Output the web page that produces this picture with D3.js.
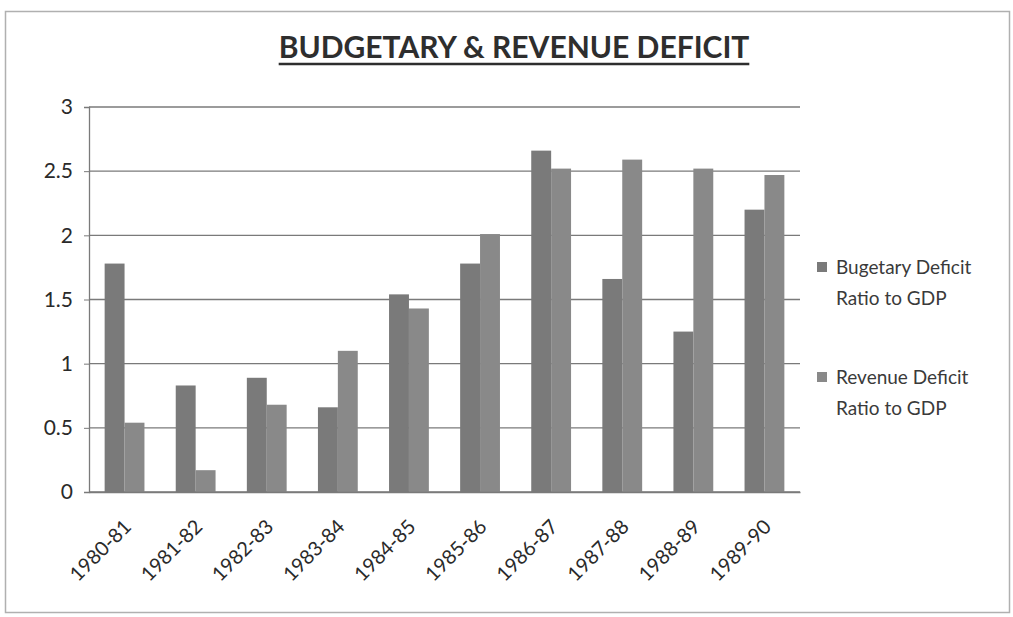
<!DOCTYPE html>
<html><head><meta charset="utf-8">
<script src="https://cdn.jsdelivr.net/npm/d3@7"></script>
<style>html,body{margin:0;padding:0;background:#fff;}svg{display:block;}</style>
</head><body>
<script>
const categories = ["1980-81","1981-82","1982-83","1983-84","1984-85","1985-86","1986-87","1987-88","1988-89","1989-90"];
const budgetary = [1.78,0.83,0.89,0.66,1.54,1.78,2.66,1.66,1.25,2.2];
const revenue = [0.54,0.17,0.68,1.1,1.43,2.01,2.52,2.59,2.52,2.47];
const seriesNames = [["Bugetary Deficit","Ratio to GDP"],["Revenue Deficit","Ratio to GDP"]];
const yTicks = [0,0.5,1,1.5,2,2.5,3];
const title = "BUDGETARY & REVENUE DEFICIT";

const W=1013,H=617;
const font = "Lato, 'Open Sans', sans-serif";
const svg = d3.select("body").append("svg").attr("width",W).attr("height",H);
svg.append("rect").attr("x",5.5).attr("y",11.5).attr("width",1004).attr("height",601)
  .attr("fill","#fff").attr("stroke","#b0b0b0").attr("stroke-width",1.5);

const m={l:89,r:800,t:107,b:492};
const x=d3.scaleBand().domain(categories).range([m.l,m.r]).paddingInner(0.44).paddingOuter(0.22);
const y=d3.scaleLinear().domain([0,3]).range([m.b,m.t]);

// gridlines
svg.append("g").selectAll("line").data(yTicks).join("line")
  .attr("x1",m.l).attr("x2",m.r).attr("y1",d=>y(d)).attr("y2",d=>y(d))
  .attr("stroke","#7a7a7a").attr("stroke-width",1.3);

const yAxis=svg.append("g").attr("transform",`translate(${m.l},0)`)
  .call(d3.axisLeft(y).tickValues(yTicks).tickSize(5).tickPadding(11).tickFormat(d3.format("")));
yAxis.select(".domain").attr("stroke","#7a7a7a").attr("stroke-width",1.3);
yAxis.selectAll(".tick line").attr("stroke","#7a7a7a");
yAxis.selectAll("text").attr("font-family",font).attr("font-size",21).attr("fill","#2a2a2a");

const inner=d3.scaleBand().domain([0,1]).range([0,x.bandwidth()]);
const g=svg.append("g");
const colors=["#7a7a7a","#898989"];
[budgetary,revenue].forEach((vals,si)=>{
  g.selectAll(".s"+si).data(vals).join("rect")
   .attr("x",(d,i)=>x(categories[i])+inner(si)).attr("width",inner.bandwidth())
   .attr("y",d=>y(d)).attr("height",d=>y(0)-y(d)).attr("fill",colors[si]);
});

const xAxis=svg.append("g").attr("transform",`translate(0,${m.b})`)
  .call(d3.axisBottom(x).tickSize(0).tickPadding(0));
xAxis.select(".domain").attr("stroke","#7a7a7a").attr("stroke-width",1.3);
xAxis.selectAll("text").attr("font-family",font).attr("font-size",20).attr("fill","#2a2a2a")
  .attr("text-anchor","end").attr("dy",0)
  .attr("transform","translate(8,36) rotate(-45)");

// title
const t=svg.append("text").attr("x",514).attr("y",58).attr("text-anchor","middle")
  .attr("font-family",font).attr("font-weight","bold").attr("font-size",30).attr("fill","#2e2e2e")
  .text(title);
const bb=t.node().getBBox();
svg.append("line").attr("x1",bb.x).attr("x2",bb.x+bb.width).attr("y1",64).attr("y2",64)
  .attr("stroke","#2e2e2e").attr("stroke-width",2.5);

// legend
const ly=[274,384];
seriesNames.forEach((lines,i)=>{
  svg.append("rect").attr("x",817).attr("y",ly[i]-12).attr("width",10).attr("height",10).attr("fill",colors[i]);
  lines.forEach((s,j)=>svg.append("text").attr("x",836).attr("y",ly[i]+j*31)
    .attr("font-family",font).attr("font-size",19).attr("fill","#3a3a3a").text(s));
});
</script>
</body></html>
